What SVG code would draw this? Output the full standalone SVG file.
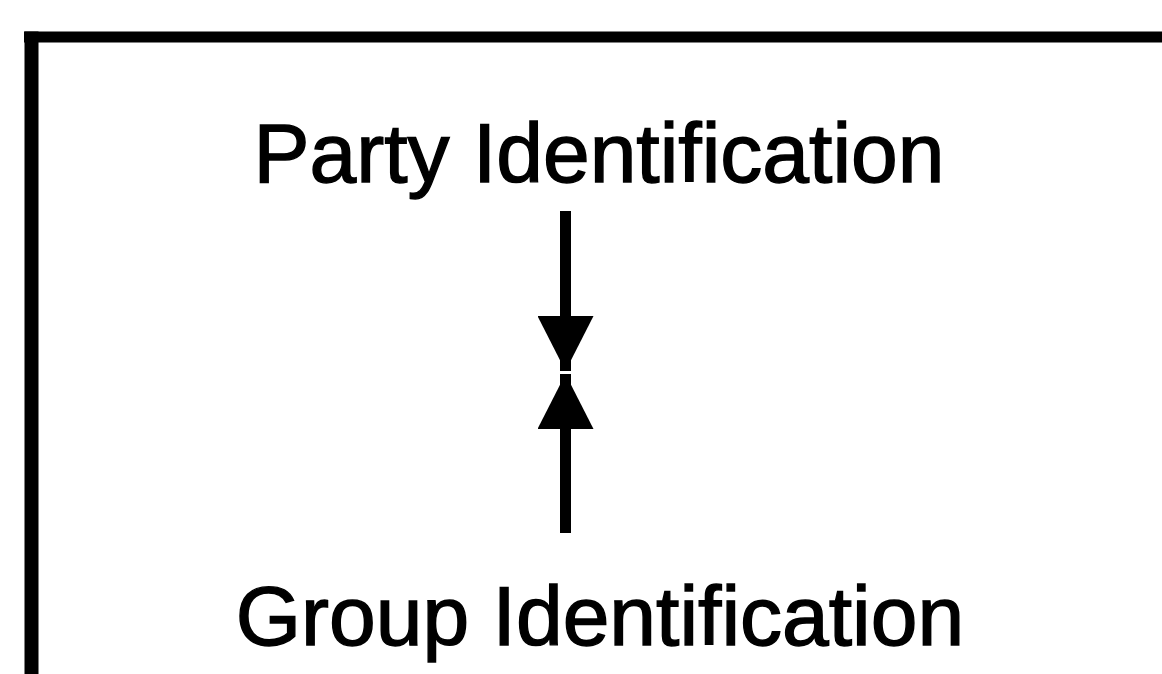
<svg xmlns="http://www.w3.org/2000/svg" width="1162" height="674" viewBox="0 0 1162 674">
  <defs>
    <style>
      .lbl { font-family: "Liberation Sans", Arial, sans-serif; font-size: 84px; fill: #000; stroke: #000; stroke-width: 1.4; text-anchor: middle; }
      .frame { stroke: #000; fill: none; }
      .conn { stroke: #000; stroke-width: 11; fill: none; }
    </style>
    <marker id="ah" markerUnits="userSpaceOnUse" markerWidth="56" markerHeight="56" viewBox="0 0 54 55" refX="54" refY="27.5" orient="auto">
      <path d="M0,0 L54,27.5 L0,55 Z" fill="#000"/>
    </marker>
  </defs>
  <rect width="1162" height="674" fill="#fff"/>
  <g id="frame">
    <line class="frame" x1="24" y1="37" x2="1162" y2="37" stroke-width="11"/>
    <line class="frame" x1="31.5" y1="31.5" x2="31.5" y2="674" stroke-width="14"/>
  </g>
  <g id="party">
    <text class="lbl" x="599" y="182">Party Identification</text>
  </g>
  <g id="group">
    <text class="lbl" x="600" y="645">Group Identification</text>
  </g>
  <g id="connectors">
    <line class="conn" x1="565.5" y1="211" x2="565.5" y2="371" marker-end="url(#ah)"/>
    <line class="conn" x1="565.5" y1="533" x2="565.5" y2="374" marker-end="url(#ah)"/>
  </g>
</svg>
